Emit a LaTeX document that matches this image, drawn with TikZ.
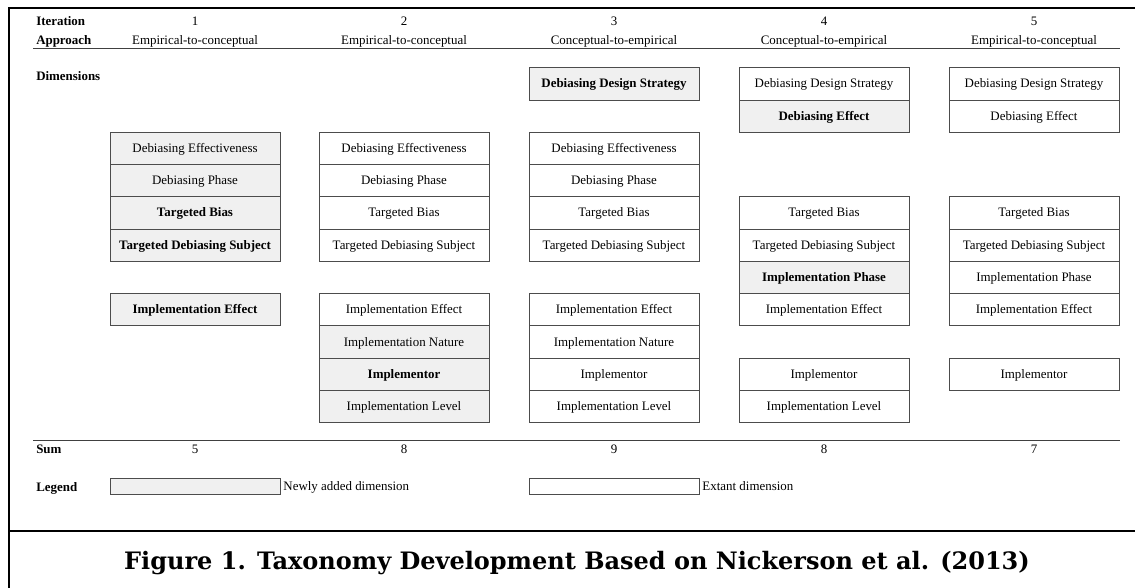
\documentclass[tikz,border=0pt]{standalone}
\usepackage{fontspec}
\setmainfont{Liberation Serif}
\newfontfamily\capfont{DejaVu Serif}
\begin{document}
\begin{tikzpicture}[x=0.75pt, y=-0.75pt,
  dim/.style = {draw=black!70, line width=0.75pt, minimum width=127.5pt, minimum height=24.2pt, inner sep=0pt, text height=7pt, text depth=1pt, font=\fontsize{9.7}{11}\selectfont},
  newdim/.style = {dim, fill=black!6},
  key/.style = {dim, minimum height=12pt},
  lbl/.style = {anchor=west, inner sep=0pt, text height=7pt, text depth=1pt, font=\fontsize{9.7}{11}\selectfont\bfseries},
  hdr/.style = {inner sep=0pt, text height=7pt, text depth=1pt, font=\fontsize{9.7}{11}\selectfont}]
\useasboundingbox (0,0) rectangle (1135,588);
% frame
\draw[line width=1.5pt] (1135,8) -- (8.5,8) -- (8.5,588);
\draw[line width=1.8pt] (8.5,531) -- (1135,531);
% header
\node[lbl] (iter) at (36,22) {Iteration};
\node[lbl] (appr) at (36,41) {Approach};
\node[hdr] (n1) at (195,22) {1};
\node[hdr] (n2) at (404,22) {2};
\node[hdr] (n3) at (614,22) {3};
\node[hdr] (n4) at (824,22) {4};
\node[hdr] (n5) at (1034,22) {5};
\node[hdr] (a1) at (195,41) {Empirical-to-conceptual};
\node[hdr] (a2) at (404,41) {Empirical-to-conceptual};
\node[hdr] (a3) at (614,41) {Conceptual-to-empirical};
\node[hdr] (a4) at (824,41) {Conceptual-to-empirical};
\node[hdr] (a5) at (1034,41) {Empirical-to-conceptual};
\draw[black!75, line width=0.75pt] (33,49) -- (1120,49);
\node[lbl] (dims) at (36,77) {Dimensions};
% iteration 1
\node[newdim] (c1-de) at (195,148.5) {Debiasing Effectiveness};
\node[newdim] (c1-dp) at (195,180.75) {Debiasing Phase};
\node[newdim, font=\fontsize{9.7}{11}\selectfont\bfseries] (c1-tb) at (195,213) {Targeted Bias};
\node[newdim, font=\fontsize{9.7}{11}\selectfont\bfseries] (c1-ts) at (195,245.25) {Targeted Debiasing Subject};
\node[newdim, font=\fontsize{9.7}{11}\selectfont\bfseries] (c1-ie) at (195,309.75) {Implementation Effect};
% iteration 2
\node[dim] (c2-de) at (404,148.5) {Debiasing Effectiveness};
\node[dim] (c2-dp) at (404,180.75) {Debiasing Phase};
\node[dim] (c2-tb) at (404,213) {Targeted Bias};
\node[dim] (c2-ts) at (404,245.25) {Targeted Debiasing Subject};
\node[dim] (c2-ie) at (404,309.75) {Implementation Effect};
\node[newdim] (c2-in) at (404,342) {Implementation Nature};
\node[newdim, font=\fontsize{9.7}{11}\selectfont\bfseries] (c2-im) at (404,374.25) {Implementor};
\node[newdim] (c2-il) at (404,406.5) {Implementation Level};
% iteration 3
\node[newdim, font=\fontsize{9.7}{11}\selectfont\bfseries] (c3-ds) at (614,84) {Debiasing Design Strategy};
\node[dim] (c3-de) at (614,148.5) {Debiasing Effectiveness};
\node[dim] (c3-dp) at (614,180.75) {Debiasing Phase};
\node[dim] (c3-tb) at (614,213) {Targeted Bias};
\node[dim] (c3-ts) at (614,245.25) {Targeted Debiasing Subject};
\node[dim] (c3-ie) at (614,309.75) {Implementation Effect};
\node[dim] (c3-in) at (614,342) {Implementation Nature};
\node[dim] (c3-im) at (614,374.25) {Implementor};
\node[dim] (c3-il) at (614,406.5) {Implementation Level};
% iteration 4
\node[dim] (c4-ds) at (824,84) {Debiasing Design Strategy};
\node[newdim, font=\fontsize{9.7}{11}\selectfont\bfseries] (c4-ef) at (824,116.25) {Debiasing Effect};
\node[dim] (c4-tb) at (824,213) {Targeted Bias};
\node[dim] (c4-ts) at (824,245.25) {Targeted Debiasing Subject};
\node[newdim, font=\fontsize{9.7}{11}\selectfont\bfseries] (c4-ip) at (824,277.5) {Implementation Phase};
\node[dim] (c4-ie) at (824,309.75) {Implementation Effect};
\node[dim] (c4-im) at (824,374.25) {Implementor};
\node[dim] (c4-il) at (824,406.5) {Implementation Level};
% iteration 5
\node[dim] (c5-ds) at (1034,84) {Debiasing Design Strategy};
\node[dim] (c5-ef) at (1034,116.25) {Debiasing Effect};
\node[dim] (c5-tb) at (1034,213) {Targeted Bias};
\node[dim] (c5-ts) at (1034,245.25) {Targeted Debiasing Subject};
\node[dim] (c5-ip) at (1034,277.5) {Implementation Phase};
\node[dim] (c5-ie) at (1034,309.75) {Implementation Effect};
\node[dim] (c5-im) at (1034,374.25) {Implementor};
% sum
\draw[black!75, line width=0.75pt] (33,440) -- (1120,440);
\node[lbl] (sum) at (36,449) {Sum};
\node[hdr] (s1) at (195,449) {5};
\node[hdr] (s2) at (404,449) {8};
\node[hdr] (s3) at (614,449) {9};
\node[hdr] (s4) at (824,449) {8};
\node[hdr] (s5) at (1034,449) {7};
% legend
\node[lbl] (leg) at (36,487) {Legend};
\node[key, fill=black!6] (k-new) at (195,486) {};
\node[hdr, anchor=west, inner sep=2pt] (t-new) at (k-new.east) {Newly added dimension};
\node[key] (k-old) at (614,486) {};
\node[hdr, anchor=west, inner sep=2pt] (t-old) at (k-old.east) {Extant dimension};
% caption
\node[inner sep=0pt, font=\capfont\fontsize{18}{21}\selectfont\bfseries] (cap) at (577,563) {Figure 1. Taxonomy Development Based on Nickerson et al. (2013)};
\end{tikzpicture}
\end{document}
